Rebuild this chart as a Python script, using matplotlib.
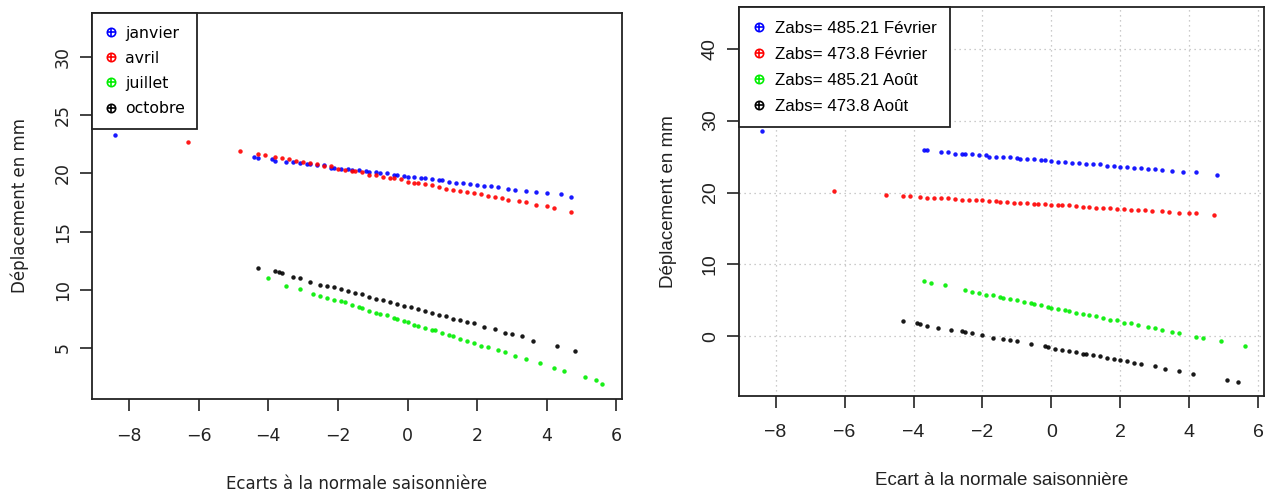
import numpy as np
import matplotlib.pyplot as plt
from matplotlib.lines import Line2D

# --- left panel data (Ecarts a la normale saisonniere) ---
x_jan = [-8.4, -4.4, -4.3, -3.9, -3.8, -3.5, -3.3, -3.1, -2.9, -2.8, -2.6, -2.4, -2.2, -2.1,
         -1.9, -1.7, -1.6, -1.4, -1.2, -1.1, -0.9, -0.8, -0.6, -0.4, -0.3, -0.1, 0.0, 0.2,
         0.4, 0.5, 0.7, 0.9, 1.0, 1.2, 1.4, 1.6, 1.8, 2.0, 2.2, 2.4, 2.6, 2.9, 3.1, 3.4,
         3.7, 4.0, 4.4, 4.7]
y_jan = [23.3, 21.4, 21.3, 21.2, 21.1, 21.0, 21.0, 20.9, 20.8, 20.8, 20.7, 20.7, 20.5, 20.5,
         20.4, 20.4, 20.3, 20.3, 20.2, 20.1, 20.1, 20.0, 20.0, 19.9, 19.9, 19.8, 19.7, 19.7,
         19.6, 19.6, 19.5, 19.4, 19.4, 19.3, 19.2, 19.2, 19.1, 19.0, 18.9, 18.9, 18.8, 18.7,
         18.6, 18.5, 18.4, 18.3, 18.2, 18.0]

x_avr = [-6.3, -4.8, -4.3, -4.1, -3.8, -3.6, -3.4, -3.2, -3.0, -2.8, -2.6, -2.4, -2.2, -2.0,
         -1.8, -1.6, -1.5, -1.3, -1.1, -0.9, -0.7, -0.5, -0.4, -0.2, 0.0, 0.2, 0.3, 0.5,
         0.7, 0.9, 1.1, 1.3, 1.5, 1.7, 1.9, 2.1, 2.3, 2.5, 2.7, 2.9, 3.2, 3.4, 3.7, 4.0,
         4.2, 4.7]
y_avr = [22.7, 21.9, 21.7, 21.6, 21.4, 21.3, 21.2, 21.1, 21.0, 20.9, 20.8, 20.6, 20.6, 20.4,
         20.3, 20.2, 20.2, 20.1, 19.9, 19.9, 19.7, 19.6, 19.6, 19.5, 19.3, 19.2, 19.2, 19.1,
         19.0, 18.8, 18.7, 18.6, 18.5, 18.4, 18.3, 18.2, 18.1, 18.0, 17.9, 17.7, 17.6, 17.5,
         17.3, 17.2, 17.0, 16.7]

x_jul = [-4.0, -3.5, -3.1, -2.7, -2.5, -2.3, -2.1, -1.9, -1.8, -1.6, -1.4, -1.3, -1.1, -0.9,
         -0.8, -0.6, -0.4, -0.3, -0.1, 0.0, 0.2, 0.3, 0.5, 0.7, 0.8, 1.0, 1.2, 1.3, 1.5,
         1.7, 1.9, 2.1, 2.3, 2.6, 2.8, 3.1, 3.4, 3.8, 4.2, 4.5, 5.1, 5.4, 5.6]
y_jul = [11.0, 10.3, 10.1, 9.6, 9.5, 9.3, 9.1, 9.0, 8.9, 8.7, 8.5, 8.4, 8.2, 8.0,
         7.9, 7.8, 7.6, 7.5, 7.3, 7.2, 7.0, 6.9, 6.7, 6.5, 6.5, 6.3, 6.1, 6.0, 5.8,
         5.6, 5.4, 5.2, 5.1, 4.8, 4.6, 4.3, 4.0, 3.7, 3.3, 3.0, 2.5, 2.2, 1.9]

x_oct = [-4.3, -3.8, -3.7, -3.6, -3.3, -3.1, -2.8, -2.5, -2.3, -2.1, -1.9, -1.7, -1.5, -1.3,
         -1.1, -0.9, -0.7, -0.5, -0.3, -0.1, 0.1, 0.3, 0.5, 0.7, 0.9, 1.1, 1.3, 1.5, 1.7,
         1.9, 2.2, 2.5, 2.8, 3.0, 3.3, 3.6, 4.3, 4.8]
y_oct = [11.9, 11.6, 11.5, 11.4, 11.1, 11.0, 10.7, 10.4, 10.3, 10.2, 10.1, 9.9, 9.7, 9.6,
         9.4, 9.2, 9.1, 8.9, 8.8, 8.6, 8.5, 8.3, 8.2, 8.0, 7.8, 7.7, 7.5, 7.4, 7.2,
         7.1, 6.8, 6.6, 6.3, 6.2, 6.0, 5.6, 5.2, 4.7]

# --- right panel data (Ecart a la normale saisonniere) ---
x_fev1 = [-8.4, -3.7, -3.6, -3.2, -3.0, -2.8, -2.6, -2.5, -2.3, -2.1, -1.9, -1.8, -1.6, -1.4,
          -1.2, -1.0, -0.9, -0.7, -0.5, -0.3, -0.2, 0.0, 0.2, 0.4, 0.6, 0.8, 1.0, 1.2, 1.4,
          1.6, 1.8, 2.0, 2.2, 2.4, 2.6, 2.8, 3.0, 3.2, 3.5, 3.8, 4.2, 4.8]
y_fev1 = [28.5, 25.9, 25.9, 25.6, 25.6, 25.4, 25.4, 25.3, 25.3, 25.2, 25.2, 25.0, 25.0, 25.0,
          24.9, 24.8, 24.7, 24.7, 24.6, 24.5, 24.5, 24.4, 24.3, 24.3, 24.1, 24.1, 24.0, 23.9,
          23.9, 23.7, 23.7, 23.6, 23.5, 23.4, 23.4, 23.3, 23.2, 23.1, 23.0, 22.9, 22.8, 22.5]

x_fev2 = x_avr
y_fev2 = [20.2, 19.7, 19.5, 19.5, 19.4, 19.3, 19.3, 19.2, 19.2, 19.1, 19.0, 19.0, 18.9, 18.9,
          18.8, 18.8, 18.7, 18.7, 18.6, 18.6, 18.5, 18.4, 18.4, 18.4, 18.3, 18.2, 18.2, 18.2,
          18.1, 18.0, 18.0, 17.9, 17.9, 17.8, 17.7, 17.7, 17.6, 17.6, 17.5, 17.4, 17.4, 17.3,
          17.2, 17.1, 17.1, 16.9]

x_aou1 = [-3.7, -3.5, -3.1, -2.5, -2.3, -2.1, -1.9, -1.7, -1.5, -1.4, -1.2, -1.0, -0.8, -0.6,
          -0.5, -0.3, -0.1, 0.0, 0.2, 0.4, 0.5, 0.7, 0.9, 1.1, 1.3, 1.5, 1.7, 1.9, 2.1,
          2.3, 2.5, 2.8, 3.0, 3.2, 3.5, 3.7, 4.2, 4.4, 4.9, 5.6]
y_aou1 = [7.7, 7.4, 7.1, 6.4, 6.1, 6.0, 5.8, 5.7, 5.4, 5.3, 5.2, 5.0, 4.8, 4.6,
          4.5, 4.3, 4.1, 4.0, 3.8, 3.6, 3.5, 3.3, 3.1, 2.9, 2.8, 2.5, 2.3, 2.2, 1.9,
          1.8, 1.6, 1.3, 1.1, 0.9, 0.6, 0.4, -0.1, -0.3, -0.7, -1.4]

x_aou2 = [-4.3, -3.9, -3.8, -3.6, -3.3, -2.9, -2.6, -2.5, -2.3, -2.0, -1.7, -1.4, -1.2, -1.0,
          -0.6, -0.2, -0.1, 0.1, 0.3, 0.5, 0.7, 0.9, 1.0, 1.2, 1.4, 1.6, 1.8, 2.0, 2.2,
          2.4, 2.6, 3.0, 3.3, 3.7, 4.1, 5.1, 5.4]
y_aou2 = [2.1, 1.8, 1.7, 1.5, 1.2, 0.9, 0.7, 0.6, 0.4, 0.2, -0.2, -0.4, -0.5, -0.7,
          -1.1, -1.4, -1.5, -1.7, -1.9, -2.0, -2.2, -2.4, -2.5, -2.6, -2.8, -3.0, -3.2, -3.3,
          -3.5, -3.7, -3.9, -4.2, -4.5, -4.8, -5.2, -6.1, -6.4]

left_labels = ["janvier", "avril", "juillet", "octobre"]
right_labels = ["Zabs= 485.21 Février", "Zabs= 473.8 Février",
                "Zabs= 485.21 Août", "Zabs= 473.8 Août"]
colors = ["#0000ff", "#ff0000", "#00ee00", "#000000"]

fig = plt.figure(figsize=(12.73, 4.93), dpi=100)
ax1 = fig.add_axes([0.0723, 0.1907, 0.4163, 0.783])
ax2 = fig.add_axes([0.5805, 0.1968, 0.4124, 0.789])

series = {
    ax1: [(x_jan, y_jan), (x_avr, y_avr), (x_jul, y_jul), (x_oct, y_oct)],
    ax2: [(x_fev1, y_fev1), (x_fev2, y_fev2), (x_aou1, y_aou1), (x_aou2, y_aou2)],
}


def style_axes(ax, font, size, ylim, yticks, xlabel, xlabelpad):
    for (x, y), c in zip(series[ax], colors):
        ax.plot(x, y, "o", color=c, ms=3.2, mec="none", alpha=0.9)
    ax.set_xlim(-9.06, 6.16)
    ax.set_ylim(*ylim)
    ax.set_xticks([-8, -6, -4, -2, 0, 2, 4, 6])
    ax.set_yticks(yticks)
    ax.tick_params(direction="out", length=8.5, width=1.2, color="#222222")
    ax.tick_params(axis="x", pad=12)
    ax.tick_params(axis="y", pad=6)
    for lab in ax.get_xticklabels() + ax.get_yticklabels():
        lab.set_fontfamily(font)
        lab.set_fontsize(size)
        lab.set_color("#222222")
    for lab in ax.get_yticklabels():
        lab.set_rotation(90)
        lab.set_va("center")
    for sp in ax.spines.values():
        sp.set_linewidth(1.3)
        sp.set_color("#222222")
    ax.set_xlabel(xlabel, fontfamily=font, fontsize=size - 0.5, labelpad=xlabelpad,
                  color="#222222")
    ax.set_ylabel("Déplacement en mm", fontfamily=font, fontsize=size - 0.5, labelpad=18,
                  color="#222222")


style_axes(ax1, "DejaVu Sans", 12.5, (0.6, 33.8), [5, 10, 15, 20, 25, 30],
           "Ecarts à la normale saisonnière", 21)
style_axes(ax2, "Liberation Sans", 14, (-8.3, 45.8), [0, 10, 20, 30, 40],
           "Ecart à la normale saisonnière", 22)

ax2.grid(True, color="#bbbbbb", linestyle=(0, (1, 3)), linewidth=0.9)
ax2.set_axisbelow(True)


def add_legend(ax, labels, font, size):
    handles = [(Line2D([], [], ls="none", marker="o", mfc="none", mec=c, mew=1.2, ms=6),
                Line2D([], [], ls="none", marker="+", color=c, mew=1.2, ms=6))
               for c in colors]
    leg = ax.legend(handles, labels, loc="upper left", bbox_to_anchor=(0, 1),
                    borderaxespad=0, fancybox=False, edgecolor="#222222", framealpha=1,
                    handlelength=0.8, handletextpad=0.5, labelspacing=0.65,
                    borderpad=0.8, prop={"family": font, "size": size})
    leg.get_frame().set_linewidth(1.3)


add_legend(ax1, left_labels, "DejaVu Sans", 11.3)
add_legend(ax2, right_labels, "Liberation Sans", 12.2)

fig.savefig("out.png", dpi=100)
